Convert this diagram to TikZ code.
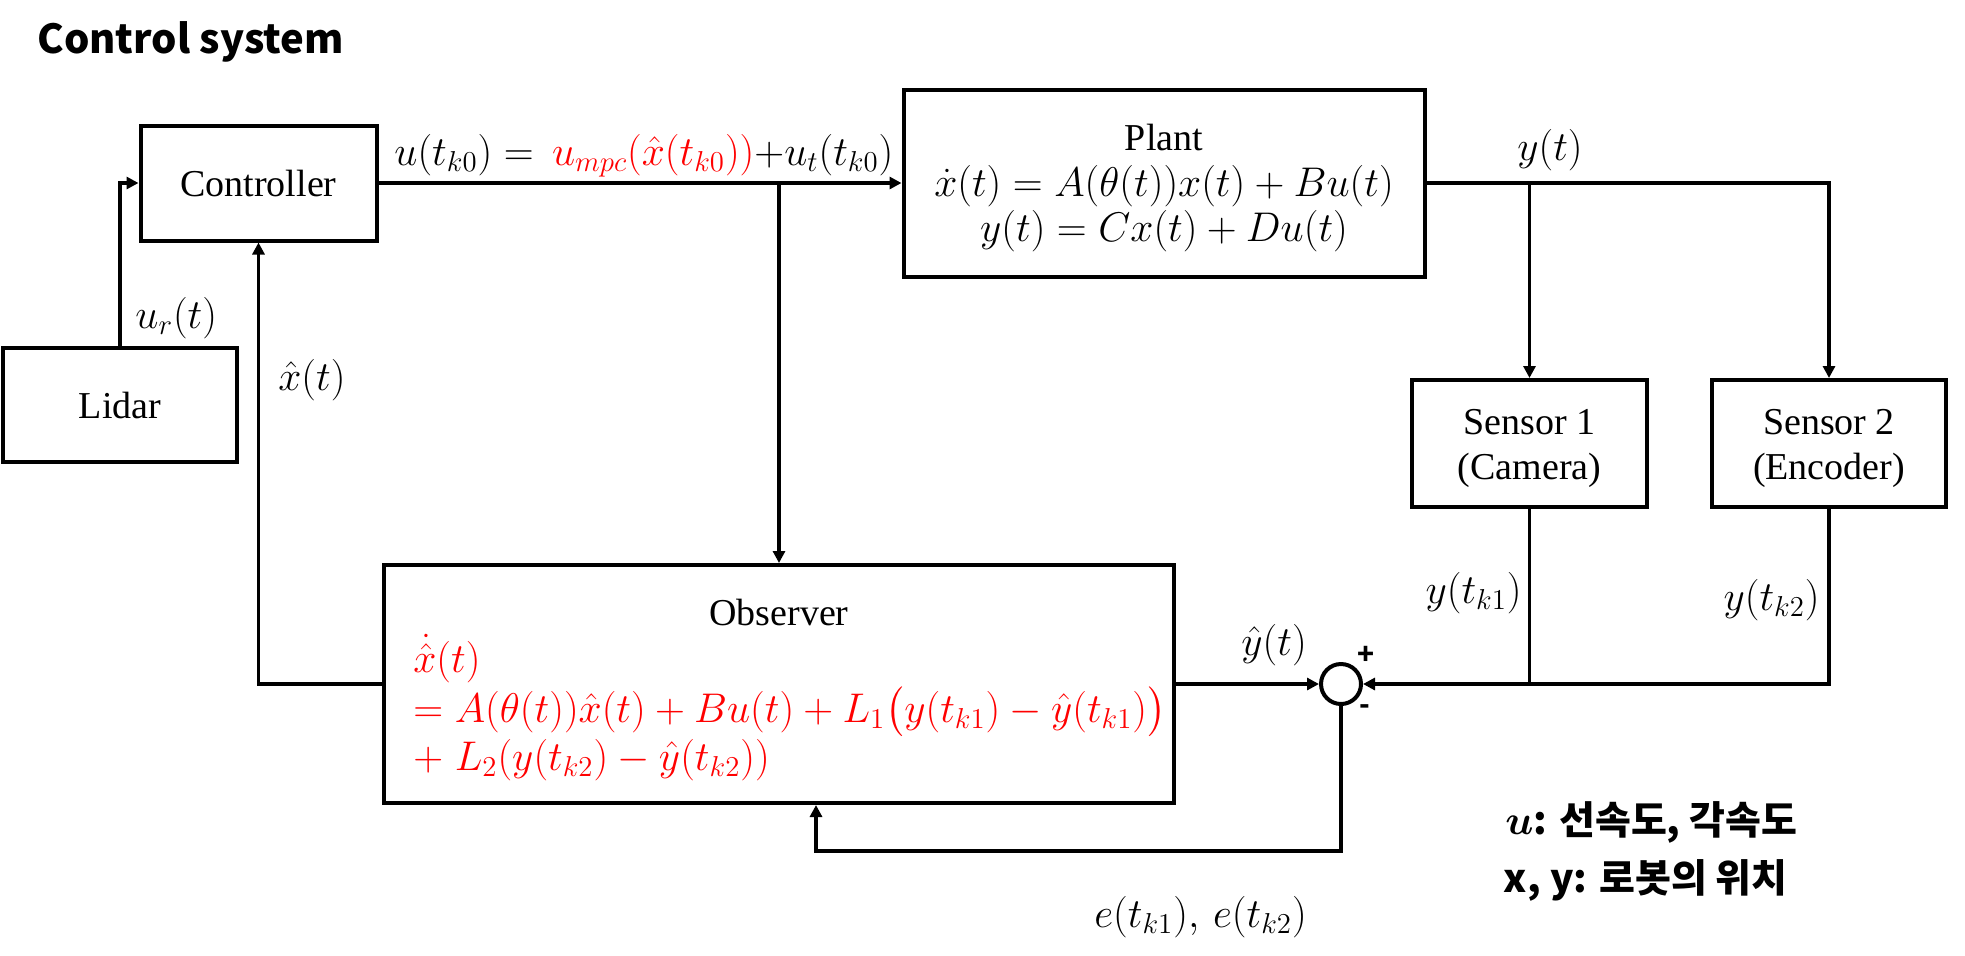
\documentclass[tikz,border=0pt]{standalone}
\usepackage{amsmath}
\usepackage{fontspec}
\setmainfont{Liberation Serif}
\newfontfamily\kr{Noto Sans CJK KR}
\usetikzlibrary{arrows.meta}
\newcommand\fs{\fontsize{19}{22.5}\selectfont}
\newcommand\fm{\fontsize{21}{23}\selectfont}
\begin{document}
\begin{tikzpicture}[x=0.5pt,y=-0.5pt,
  box/.style={draw, line width=2pt, inner sep=0pt, align=center, font=\fs},
  arr/.style={line width=1.8pt, -{Triangle[length=6pt,width=6pt]}},
  ln/.style={line width=1.8pt},
  lbl/.style={inner sep=0pt, font=\fs},
  mlbl/.style={inner sep=0pt, font=\fm},
  red/.style={text={rgb,255:red,255;green,0;blue,0}},
]
\useasboundingbox (0,0) rectangle (1965,955);

% title
\node[inner sep=0pt, anchor=base west, font=\fontsize{20}{24}\selectfont\kr\bfseries] (title) at (37,53) {Control system};

% blocks
\node[box, minimum width=118pt, minimum height=57.5pt] (ctrl) at (258.5,183) {Controller};
\node[box, minimum width=260.5pt, minimum height=93.5pt] (plant) at (1164,183) {};
\node[box, minimum width=117pt, minimum height=57pt] (lidar) at (120,405) {Lidar};
\node[box, minimum width=117.5pt, minimum height=63.5pt] (s1) at (1529.5,443.5) {};
\node[box, minimum width=117pt, minimum height=63.5pt] (s2) at (1829,443.5) {};
\node[box, minimum width=395pt, minimum height=119pt] (obs) at (779,684) {};
\node[draw, circle, line width=2pt, minimum size=20pt, inner sep=0pt] (sum) at (1341,684) {};

% block contents
\node[lbl, anchor=base] (plantt) at (1164,150) {Plant};
\node[mlbl, anchor=base] (pe1) at (1164,196) {$\dot{x}(t)=A(\theta(t))x(t)+Bu(t)$};
\node[mlbl, anchor=base] (pe2) at (1164,241) {$y(t)=Cx(t)+Du(t)$};
\node[lbl, align=center] (s1t) at ([yshift=-2.5pt]s1.center) {Sensor 1\\(Camera)};
\node[lbl, align=center] (s2t) at ([yshift=-2.5pt]s2.center) {Sensor 2\\(Encoder)};

% observer contents
\node[lbl, anchor=base] (obst) at (779,625) {Observer};
\node[mlbl, anchor=base west, red] (oe1) at (413,672) {$\dot{\hat{x}}(t)$};
\node[mlbl, anchor=base west, red] (oe2) at (413,722) {$=A(\theta(t))\hat{x}(t)+Bu(t)+L_1\big(y(t_{k1})-\hat{y}(t_{k1})\big)$};
\node[mlbl, anchor=base west, red] (oe3) at (413,770) {$+\;L_2(y(t_{k2})-\hat{y}(t_{k2}))$};

% labels
\node[mlbl, anchor=base west] (ulab) at (394,165) {$u(t_{k0})=\,{\color{red}u_{mpc}(\hat{x}(t_{k0}))}{+}u_t(t_{k0})$};
\node[mlbl, anchor=base] (ylab) at (1550,160) {$y(t)$};
\node[mlbl, anchor=base west] (urlab) at (135,328) {$u_r(t)$};
\node[mlbl, anchor=base west] (xhlab) at (278,390) {$\hat{x}(t)$};
\node[mlbl, anchor=base east] (yk1) at (1522,603) {$y(t_{k1})$};
\node[mlbl, anchor=base east] (yk2) at (1820,610) {$y(t_{k2})$};
\node[mlbl, anchor=base west] (yhat) at (1241,655) {$\hat{y}(t)$};
\node[inner sep=0pt, font=\fontsize{14}{16}\selectfont\kr\bfseries] (plus) at (1366,655) {+};
\node[inner sep=0pt, font=\fontsize{14}{16}\selectfont\kr\bfseries] (minus) at (1365,710) {-};
\node[mlbl, anchor=base west] (elab) at (1094,927) {$e(t_{k1}),\,e(t_{k2})$};
\node[inner sep=0pt, anchor=base west, font=\fontsize{19.5}{22}\selectfont\kr\bfseries] (leg1) at (1505,834) {$\boldsymbol{u}$: 선속도, 각속도};
\node[inner sep=0pt, anchor=base west, font=\fontsize{19.5}{22}\selectfont\kr\bfseries] (leg2) at (1503,892) {x, y: 로봇의 위치};

% connectors
\coordinate (j1) at (779,183);
\coordinate (j2) at (1529.5,183);
\coordinate (j4) at (1529.5,684);
\coordinate (fb) at (816,851);
\coordinate (fx) at (258.5,684);
\draw[arr] (ctrl.east) -- (ctrl.east -| plant.west);
\draw[arr] (j1) -- (j1 |- obs.north);
\draw[arr] (plant.east) -| (s2.north);
\draw[arr] (j2) -- (s1.north);
\draw[ln] (s1.south) -- (j4);
\draw[arr] (s2.south) |- (sum.east);
\draw[arr] (obs.east) -- (sum.west);
\draw[arr] (sum.south) |- (fb) -- (fb |- obs.south);
\draw[arr] (obs.west) -- (fx) -- (ctrl.south);
\draw[arr] (lidar.north) |- (ctrl.west);
\end{tikzpicture}
\end{document}
